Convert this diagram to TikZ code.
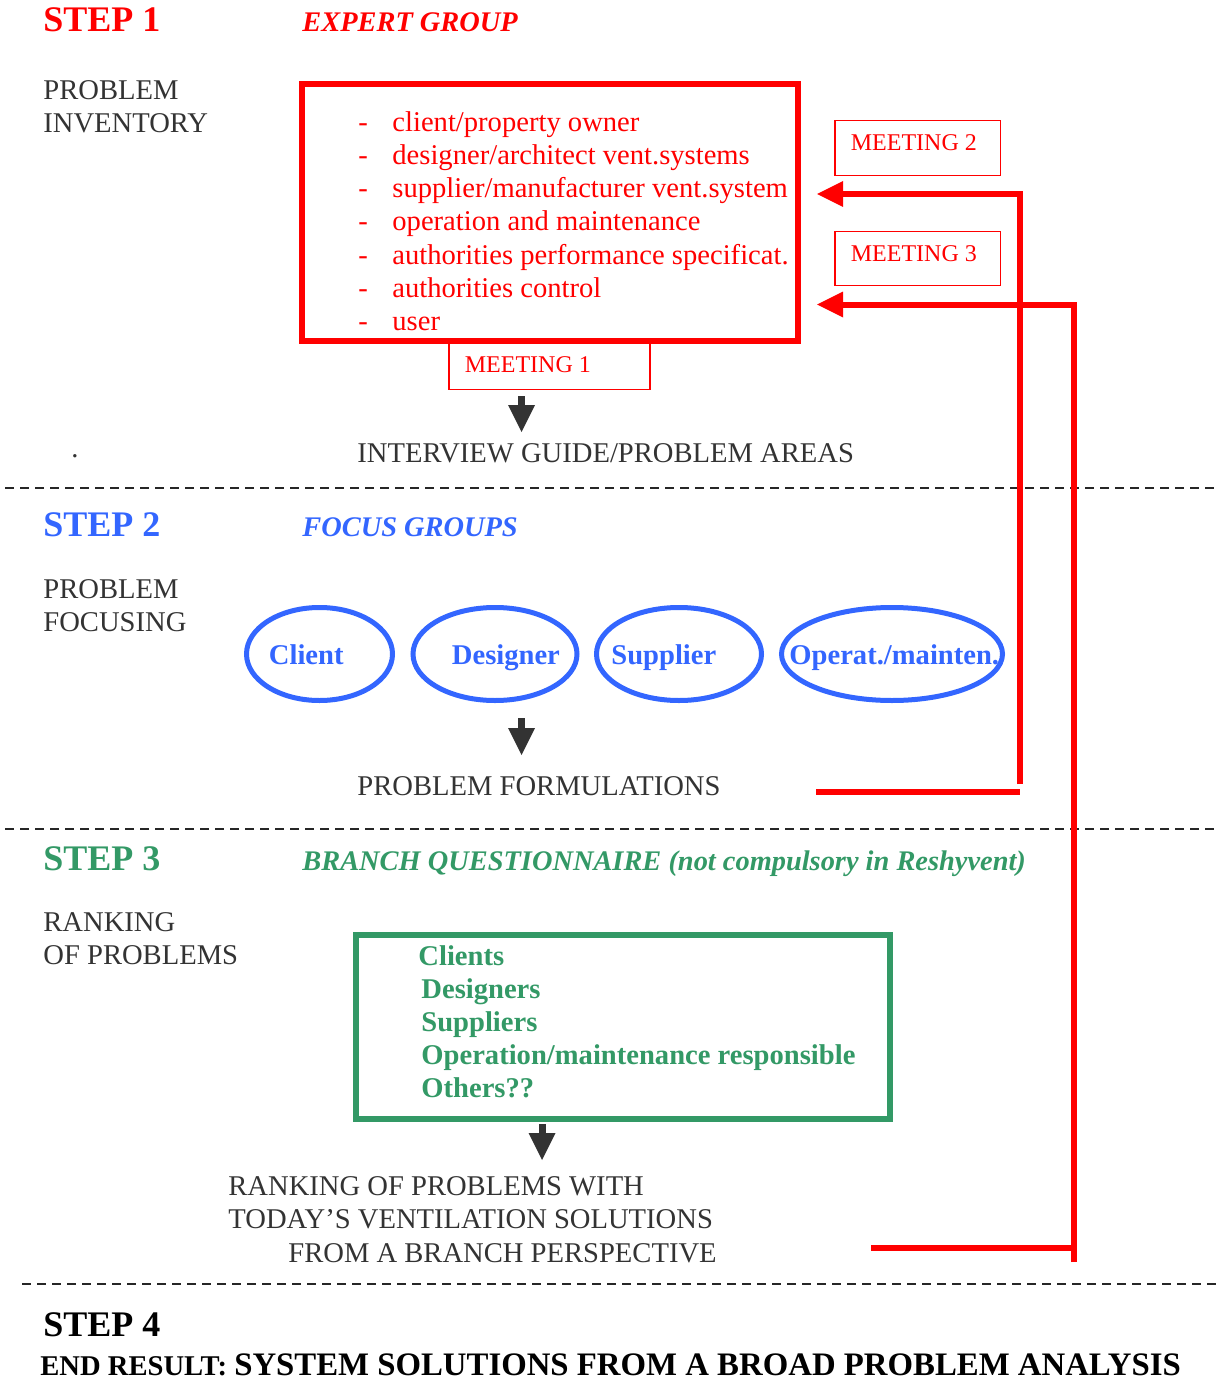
\documentclass[tikz,border=0pt]{standalone}
\usepackage{fontspec}
\setmainfont{Liberation Serif}
\usepackage{xcolor}
\usetikzlibrary{arrows.meta, shapes.geometric, calc, positioning}
\definecolor{stepred}{RGB}{255,0,0}
\definecolor{stepblue}{RGB}{51,102,255}
\definecolor{stepgreen}{RGB}{51,153,102}
\definecolor{plaingray}{RGB}{51,51,51}
\tikzset{
    plain/.style={anchor=base west, inner sep=0pt, text=plaingray, font=\fontsize{14.3pt}{16.5pt}\selectfont},
    steptitle/.style={anchor=base west, inner sep=0pt, font=\fontsize{18pt}{20pt}\selectfont\bfseries},
    grouptitle/.style={anchor=base west, inner sep=0pt, font=\fontsize{14.2pt}{17pt}\selectfont\bfseries\itshape},
    redlist/.style={plain, text=stepred},
    greenlist/.style={plain, text=stepgreen, font=\fontsize{14.3pt}{16.5pt}\selectfont\bfseries},
    expertbox/.style={draw=stepred, line width=3pt, minimum width=248.25pt, minimum height=128pt, inner sep=0pt},
    rankbox/.style={draw=stepgreen, line width=3pt, minimum width=267pt, minimum height=91.75pt, inner sep=0pt},
    meetline/.style={draw=stepred, line width=0.6pt},
    meettext/.style={anchor=base west, inner sep=0pt, text=stepred, font=\fontsize{12pt}{14pt}\selectfont},
    focusring/.style={draw=stepblue, ellipse, line width=2.5pt, minimum height=46.5pt, inner sep=0pt},
    focustext/.style={anchor=base west, inner sep=0pt, text=stepblue, font=\fontsize{14.3pt}{16.5pt}\selectfont\bfseries},
    sep/.style={draw=black!85, line width=0.8pt, dash pattern=on 4.5pt off 3pt},
    downarrow/.style={draw=plaingray, line width=3.5pt, -{Triangle[length=13.5pt, width=13.5pt, line width=0pt]}},
    feedline/.style={draw=stepred, line width=3pt},
    feedback/.style={feedline, -{Triangle[length=13pt, width=13pt, line width=0pt]}}
}
\newcommand{\meeting}[4]{
    \coordinate (#1-nw) at (#2);
    \coordinate (#1-se) at (#3);
    \draw[meetline] (#1-nw) rectangle (#1-se);
    \node[meettext] (#1) at ($(#1-nw) + (15.5, 30.5)$) {#4};
}
\newcommand{\focusgroup}[5]{
    \node[focusring, minimum width=#3] (#1-e) at (#2, 654) {};
    \node[focustext] (#1) at (#4, 664) {#5};
}

\begin{document}
\begin{tikzpicture}[x=0.5pt, y=-0.5pt]
    \useasboundingbox (0, 0) rectangle (1220, 1380);
    \node[steptitle, text=stepred] (step1) at (43, 32) {STEP 1};
    \node[grouptitle, text=stepred] (expertgroup) at (302, 32) {EXPERT GROUP};
    \node[plain] (inventory1) at (43, 100) {PROBLEM};
    \node[plain] (inventory2) at (43, 133) {INVENTORY};
    \meeting{meet1}{449, 341.5}{650, 389.5}{MEETING 1}
    \node[expertbox] (expert) at (549.75, 212.5) {};
    \foreach \who [count=\i from 0] in {client/property owner, designer/architect vent.systems, supplier/manufacturer vent.system, operation and maintenance, authorities performance specificat., authorities control, user} {
        \node[redlist] (dash\i) at (358, 132+33*\i) {-};
        \node[redlist] (role\i) at (392, 132+33*\i) {\who};
    }
    \meeting{meet2}{835, 120.5}{1000.5, 175.5}{MEETING 2}
    \meeting{meet3}{835, 231.5}{1000.5, 285.5}{MEETING 3}
    \node[plain] (dot) at (71, 457) {.};
    \node[plain] (guide) at (357, 462) {INTERVIEW GUIDE/PROBLEM AREAS};

    \node[steptitle, text=stepblue] (step2) at (43, 536) {STEP 2};
    \node[grouptitle, text=stepblue] (focusgroups) at (302, 536) {FOCUS GROUPS};
    \node[plain] (focusing1) at (43, 598) {PROBLEM};
    \node[plain] (focusing2) at (43, 631) {FOCUSING};
    \focusgroup{client}{319.5}{73pt}{268.5}{Client}
    \focusgroup{designer}{495}{82pt}{451.5}{Designer}
    \focusgroup{supplier}{679}{82.5pt}{611}{Supplier}
    \focusgroup{operat}{892}{110.5pt}{789}{Operat./mainten.}
    \node[plain] (formulations) at (357, 795) {PROBLEM FORMULATIONS};

    \node[steptitle, text=stepgreen] (step3) at (43, 870) {STEP 3};
    \node[grouptitle, text=stepgreen] (branch) at (302, 870) {BRANCH QUESTIONNAIRE (not compulsory in Reshyvent)};
    \node[plain] (ranking1) at (43, 931) {RANKING};
    \node[plain] (ranking2) at (43, 964) {OF PROBLEMS};
    \node[rankbox] (questionnaire) at (623, 1026.75) {};
    \node[greenlist] (branch0) at (418, 965) {Clients};
    \foreach \who [count=\i] in {Designers, Suppliers, Operation/maintenance responsible, Others??} {
        \node[greenlist] (branch\i) at (421, 965+33*\i) {\who};
    }
    \node[plain] (result1) at (228, 1195) {RANKING OF PROBLEMS WITH};
    \node[plain] (result2) at (228, 1228) {TODAY'S VENTILATION SOLUTIONS};
    \node[plain] (result3) at (288, 1262) {FROM A BRANCH PERSPECTIVE};

    \node[steptitle, text=black] (step4) at (43, 1336) {STEP 4};
    \node[anchor=base west, inner sep=0pt, font=\bfseries] (endresult) at (40, 1375) {{\fontsize{14.3pt}{16pt}\selectfont END RESULT: }{\fontsize{16.4pt}{18pt}\selectfont SYSTEM SOLUTIONS FROM A BROAD PROBLEM ANALYSIS}};

    \coordinate (a1top) at (521.5, 396);
    \coordinate (a1tip) at (521.5, 432);
    \coordinate (a2top) at (521.5, 718);
    \coordinate (a2tip) at (521.5, 755);
    \coordinate (a3top) at (542, 1124);
    \coordinate (a3tip) at (542, 1160);
    \coordinate (outA) at (816, 792);
    \coordinate (riseA) at (1019.5, 784);
    \coordinate (inA) at (817, 194);
    \coordinate (outB) at (871, 1247.5);
    \coordinate (footB) at (1074, 1262);
    \coordinate (inB) at (817, 304.5);
    \draw[sep]
    (5, 488) -- (1220, 488)
    (5, 829) -- (1220, 829)
    (22, 1284) -- (1220, 1284);
    \draw[downarrow] (a1top) -- (a1tip);
    \draw[downarrow] (a2top) -- (a2tip);
    \draw[downarrow] (a3top) -- (a3tip);
    \draw[feedline] (outA) -- (outA -| riseA);
    \draw[feedback] (riseA) |- (inA);
    \draw[feedline] (outB) -- (outB -| footB);
    \draw[feedback] (footB) |- (inB);
\end{tikzpicture}
\end{document}
